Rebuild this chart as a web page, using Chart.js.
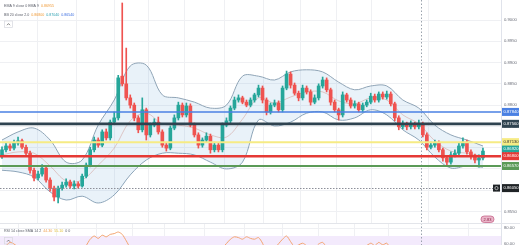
<!DOCTYPE html>
<html lang="en">
<head>
<meta charset="UTF-8">
<title>Price chart - BB / RSI</title>
<script src="https://cdn.jsdelivr.net/npm/chart.js@4.4.1/dist/chart.umd.min.js"></script>
<style>
  html, body { margin: 0; padding: 0; background: #fff; overflow: hidden; }
  #wrap { position: relative; width: 520px; height: 245px; }
  #priceChart { position: absolute; left: 0; top: 0; }
  #rsiChart { position: absolute; left: 0; top: 223px; }
</style>
</head>
<body>
<div id="wrap">
  <canvas id="priceChart" width="520" height="223"></canvas>
  <canvas id="rsiChart" width="520" height="22"></canvas>
</div>
<script>
// candles (one per bar, left to right)
const opens = [
  0.8680, 0.8695, 0.8704, 0.8699, 0.8711, 0.8716, 0.8701, 0.8687, 0.8647, 0.8629,
  0.8638, 0.8652, 0.8624, 0.8605, 0.8584, 0.8605, 0.8612, 0.8619, 0.8610, 0.8615,
  0.8610, 0.8633, 0.8659, 0.8695, 0.8718, 0.8706, 0.8737, 0.8723, 0.8760, 0.8770,
  0.8868, 0.8850, 0.8817, 0.8800, 0.8770, 0.8742, 0.8789, 0.8730, 0.8753, 0.8760,
  0.8737, 0.8706, 0.8699, 0.8746, 0.8770, 0.8800, 0.8777, 0.8798, 0.8753, 0.8730,
  0.8706, 0.8718, 0.8727, 0.8695, 0.8706, 0.8695, 0.8753, 0.8763, 0.8793, 0.8812,
  0.8817, 0.8807, 0.8800, 0.8812, 0.8824, 0.8840, 0.8812, 0.8784, 0.8800, 0.8805,
  0.8789, 0.8840, 0.8873, 0.8847, 0.8828, 0.8817, 0.8840, 0.8831, 0.8807, 0.8817,
  0.8845, 0.8859, 0.8836, 0.8807, 0.8789, 0.8777, 0.8824, 0.8812, 0.8798, 0.8803,
  0.8789, 0.8800, 0.8807, 0.8821, 0.8812, 0.8826, 0.8819, 0.8826, 0.8803, 0.8770,
  0.8749, 0.8756, 0.8749, 0.8756, 0.8749, 0.8756, 0.8730, 0.8701, 0.8706, 0.8711,
  0.8695, 0.8676, 0.8666, 0.8683, 0.8687, 0.8704, 0.8713, 0.8690, 0.8680, 0.8671,
  0.8676
];
const highs = [
  0.8702, 0.8711, 0.8709, 0.8718, 0.8725, 0.8720, 0.8706, 0.8692, 0.8652, 0.8645,
  0.8660, 0.8657, 0.8629, 0.8610, 0.8610, 0.8619, 0.8627, 0.8624, 0.8622, 0.8620,
  0.8638, 0.8664, 0.8701, 0.8725, 0.8723, 0.8742, 0.8744, 0.8765, 0.8784, 0.8870,
  0.9040, 0.8934, 0.8824, 0.8805, 0.8775, 0.8817, 0.8793, 0.8758, 0.8768, 0.8772,
  0.8742, 0.8711, 0.8751, 0.8777, 0.8807, 0.8805, 0.8805, 0.8803, 0.8758, 0.8735,
  0.8723, 0.8735, 0.8732, 0.8713, 0.8711, 0.8758, 0.8770, 0.8798, 0.8819, 0.8824,
  0.8821, 0.8812, 0.8817, 0.8828, 0.8847, 0.8845, 0.8817, 0.8805, 0.8812, 0.8810,
  0.8845, 0.8880, 0.8878, 0.8852, 0.8833, 0.8847, 0.8845, 0.8836, 0.8824, 0.8850,
  0.8866, 0.8864, 0.8840, 0.8812, 0.8793, 0.8831, 0.8828, 0.8817, 0.8810, 0.8807,
  0.8805, 0.8812, 0.8828, 0.8826, 0.8831, 0.8831, 0.8833, 0.8831, 0.8807, 0.8775,
  0.8763, 0.8760, 0.8763, 0.8760, 0.8765, 0.8760, 0.8735, 0.8713, 0.8718, 0.8716,
  0.8699, 0.8680, 0.8690, 0.8695, 0.8711, 0.8723, 0.8718, 0.8695, 0.8685, 0.8683,
  0.8699
];
const lows = [
  0.8675, 0.8690, 0.8693, 0.8695, 0.8706, 0.8697, 0.8682, 0.8640, 0.8622, 0.8624,
  0.8633, 0.8619, 0.8598, 0.8575, 0.8570, 0.8600, 0.8607, 0.8605, 0.8603, 0.8605,
  0.8607, 0.8629, 0.8655, 0.8690, 0.8701, 0.8702, 0.8718, 0.8718, 0.8755, 0.8765,
  0.8845, 0.8812, 0.8793, 0.8763, 0.8735, 0.8737, 0.8718, 0.8725, 0.8749, 0.8732,
  0.8701, 0.8692, 0.8695, 0.8742, 0.8765, 0.8772, 0.8772, 0.8749, 0.8725, 0.8699,
  0.8701, 0.8713, 0.8687, 0.8690, 0.8690, 0.8690, 0.8749, 0.8758, 0.8789, 0.8807,
  0.8803, 0.8796, 0.8796, 0.8807, 0.8819, 0.8805, 0.8777, 0.8779, 0.8796, 0.8784,
  0.8784, 0.8836, 0.8840, 0.8824, 0.8810, 0.8812, 0.8826, 0.8800, 0.8803, 0.8812,
  0.8840, 0.8831, 0.8800, 0.8784, 0.8765, 0.8772, 0.8807, 0.8793, 0.8793, 0.8784,
  0.8784, 0.8796, 0.8803, 0.8807, 0.8807, 0.8814, 0.8814, 0.8798, 0.8763, 0.8742,
  0.8744, 0.8742, 0.8744, 0.8744, 0.8744, 0.8725, 0.8695, 0.8697, 0.8701, 0.8690,
  0.8668, 0.8659, 0.8661, 0.8678, 0.8683, 0.8699, 0.8685, 0.8673, 0.8664, 0.8654,
  0.8671
];
const closes = [
  0.8695, 0.8704, 0.8699, 0.8711, 0.8716, 0.8701, 0.8687, 0.8647, 0.8629, 0.8638,
  0.8652, 0.8624, 0.8605, 0.8584, 0.8605, 0.8612, 0.8619, 0.8610, 0.8615, 0.8610,
  0.8633, 0.8659, 0.8695, 0.8718, 0.8706, 0.8737, 0.8723, 0.8760, 0.8770, 0.8864,
  0.8850, 0.8817, 0.8800, 0.8770, 0.8742, 0.8789, 0.8730, 0.8753, 0.8760, 0.8737,
  0.8706, 0.8699, 0.8746, 0.8770, 0.8800, 0.8777, 0.8798, 0.8753, 0.8730, 0.8706,
  0.8718, 0.8727, 0.8695, 0.8706, 0.8695, 0.8753, 0.8763, 0.8793, 0.8812, 0.8817,
  0.8807, 0.8800, 0.8812, 0.8824, 0.8840, 0.8812, 0.8784, 0.8800, 0.8805, 0.8789,
  0.8840, 0.8873, 0.8847, 0.8828, 0.8817, 0.8840, 0.8831, 0.8807, 0.8817, 0.8845,
  0.8859, 0.8836, 0.8807, 0.8789, 0.8777, 0.8824, 0.8812, 0.8798, 0.8803, 0.8789,
  0.8800, 0.8807, 0.8821, 0.8812, 0.8826, 0.8819, 0.8826, 0.8803, 0.8770, 0.8749,
  0.8756, 0.8749, 0.8756, 0.8749, 0.8756, 0.8730, 0.8701, 0.8706, 0.8711, 0.8695,
  0.8676, 0.8666, 0.8683, 0.8687, 0.8704, 0.8713, 0.8690, 0.8680, 0.8671, 0.8676,
  0.8692
];

// Bollinger bands, read every 4th bar
const bbIndex = [0, 4, 8, 12, 16, 20, 24, 28, 32, 36, 40, 44, 48, 52, 56, 60,
  64, 68, 72, 76, 80, 84, 88, 92, 96, 100, 104, 108, 112, 116, 120];
const bbUpper = [0.8718, 0.8737, 0.8746, 0.8718, 0.8666, 0.8671, 0.8753, 0.8812, 0.8892, 0.8894,
  0.8824, 0.8817, 0.8807, 0.8793, 0.8800, 0.8868, 0.8868, 0.8859, 0.8878, 0.8883,
  0.8878, 0.8854, 0.8836, 0.8845, 0.8845, 0.8812, 0.8793, 0.8753, 0.8730, 0.8718, 0.8704];
const bbBasis = [0.8683, 0.8690, 0.8687, 0.8657, 0.8622, 0.8624, 0.8659, 0.8699, 0.8763, 0.8781,
  0.8756, 0.8753, 0.8746, 0.8730, 0.8725, 0.8767, 0.8817, 0.8805, 0.8819, 0.8831,
  0.8831, 0.8810, 0.8803, 0.8817, 0.8812, 0.8777, 0.8756, 0.8716, 0.8692, 0.8687, 0.8680];
const bbLower = [0.8647, 0.8643, 0.8631, 0.8596, 0.8577, 0.8586, 0.8570, 0.8589, 0.8636, 0.8671,
  0.8687, 0.8687, 0.8683, 0.8666, 0.8650, 0.8666, 0.8765, 0.8751, 0.8760, 0.8781,
  0.8784, 0.8765, 0.8770, 0.8789, 0.8777, 0.8742, 0.8718, 0.8678, 0.8652, 0.8657, 0.8654];

// RSI 14
const rsiIndex = [0, 1, 2, 3, 5, 8, 12, 16, 19, 21, 22, 23, 24, 25, 26, 27, 28, 29, 30, 31,
  32, 36, 40, 44, 48, 52, 55, 57, 58, 59, 60, 61, 62, 63, 64, 65, 66, 68, 70, 71,
  72, 73, 75, 76, 78, 79, 80, 81, 83, 85, 89, 92, 93, 94, 95, 96, 97, 99, 103, 106,
  110, 112, 115, 117, 120];
const rsiValues = [55, 58, 62, 60, 52, 40, 35, 42, 45, 58, 66, 70, 67, 71, 69, 72, 73, 75, 72, 64,
  56, 45, 42, 55, 45, 40, 55, 66, 69, 68, 66, 69, 67, 66, 68, 61, 50, 55, 66, 70,
  63, 57, 61, 58, 55, 60, 62, 56, 48, 57, 52, 61, 58, 62, 59, 61, 54, 42, 45, 35,
  30, 35, 45, 40, 44.3];

// axes
const priceTicks = [0.9000, 0.8950, 0.8900, 0.8850, 0.8800, 0.8750, 0.8700, 0.8650, 0.8600, 0.8550];
const rsiTicks = [80, 60];
const dayTicks = [4, 13.5, 23.5, 32.5, 40.5, 50.5, 60.5, 70, 79, 88, 96.5, 116.5];
const sessionBreak = 104.5;

// drawn levels
const levelPrices = [0.8784, 0.8756, 0.8713, 0.8680, 0.8657];
const dottedLevel = 0.8605;

const emaValue = '0.86955';
const rsiLegendValues = ['44.30', '55.10'];

const FONT = '"Liberation Sans", Arial, sans-serif';
const UP = '#26a69a';
const DOWN = '#ef5350';
const levelStyle = [
  { color: '#4a80e3', width: 1.5, text: '#fff' },
  { color: '#2f4350', width: 2.6, text: '#fff' },
  { color: '#f6eb84', width: 2, text: '#333' },
  { color: '#e53935', width: 2.6, text: '#fff' },
  { color: '#5b9a57', width: 2, text: '#fff' }
];

function timeAxis() {
  return {
    type: 'linear',
    min: -0.5,
    max: 124.5,
    offset: false,
    afterBuildTicks: s => { s.ticks = dayTicks.map(v => ({ value: v })); },
    ticks: { display: false },
    grid: { color: '#eff0f3', drawTicks: false },
    border: { display: false },
    afterFit: s => { s.height = 0; }
  };
}

function valueAxis(min, max, ticks, digits) {
  return {
    position: 'right',
    min: min,
    max: max,
    afterBuildTicks: s => { s.ticks = ticks.map(v => ({ value: v })); },
    ticks: { font: { size: 4.2, family: FONT }, color: '#6a6d78', padding: 3, callback: v => v.toFixed(digits) },
    grid: { color: '#eff0f3', drawTicks: false },
    border: { color: '#e0e3eb' },
    afterFit: s => { s.width = 19; s.paddingTop = 0; s.paddingBottom = 0; }
  };
}

function tag(ctx, cy, bg, fg, lines) {
  const h = lines.length > 1 ? 11 : 8;
  ctx.fillStyle = bg;
  ctx.fillRect(502, cy - h / 2, 17, h);
  ctx.fillStyle = fg;
  ctx.font = '4.2px ' + FONT;
  ctx.textAlign = 'left';
  ctx.textBaseline = 'middle';
  lines.forEach((t, i) => ctx.fillText(t, 503.5, cy - (lines.length - 1) * 2.4 + i * 4.8));
}

function legendLine(ctx, y, parts) {
  let cx = 4;
  ctx.font = '3.6px ' + FONT;
  ctx.textAlign = 'left';
  ctx.textBaseline = 'middle';
  parts.forEach(([t, c]) => {
    ctx.fillStyle = c;
    ctx.fillText(t, cx, y);
    cx += ctx.measureText(t).width + 2;
  });
}

function collapseButton(ctx, top) {
  ctx.strokeStyle = '#d6d8de';
  ctx.lineWidth = 0.7;
  ctx.strokeRect(4.5, top, 8, 6.5);
  ctx.strokeStyle = '#555';
  ctx.beginPath();
  ctx.moveTo(7, top + 4.2);
  ctx.lineTo(8.5, top + 2.6);
  ctx.lineTo(10, top + 4.2);
  ctx.stroke();
}

function sessionLine(chart) {
  const { ctx, chartArea: a, scales: { x } } = chart;
  const sx = Math.round(x.getPixelForValue(sessionBreak)) + 0.5;
  ctx.save();
  ctx.strokeStyle = '#9aa3ad';
  ctx.lineWidth = 1;
  ctx.setLineDash([1.5, 2]);
  ctx.beginPath();
  ctx.moveTo(sx, a.top);
  ctx.lineTo(sx, a.bottom);
  ctx.stroke();
  ctx.restore();
}

const priceOverlay = {
  id: 'priceOverlay',
  beforeDatasetsDraw(chart) {
    sessionLine(chart);
  },
  afterDatasetsDraw(chart) {
    const { ctx, chartArea: a, scales: { y } } = chart;
    ctx.save();
    const dy = Math.round(y.getPixelForValue(dottedLevel)) + 0.5;
    ctx.strokeStyle = '#8c8f99';
    ctx.lineWidth = 1;
    ctx.setLineDash([1.5, 1.5]);
    ctx.beginPath();
    ctx.moveTo(a.left, dy);
    ctx.lineTo(a.right, dy);
    ctx.stroke();
    ctx.setLineDash([]);
    levelPrices.forEach((p, k) => {
      const ly = y.getPixelForValue(p);
      ctx.strokeStyle = levelStyle[k].color;
      ctx.lineWidth = levelStyle[k].width;
      ctx.beginPath();
      ctx.moveTo(a.left, ly);
      ctx.lineTo(a.right, ly);
      ctx.stroke();
    });
    ctx.restore();
  },
  afterDraw(chart) {
    const { ctx, scales: { y } } = chart;
    ctx.save();
    // right price tags
    [0, 1, 2].forEach(k => tag(ctx, y.getPixelForValue(levelPrices[k]), levelStyle[k].color, levelStyle[k].text, [levelPrices[k].toFixed(5)]));
    const last = closes[closes.length - 1];
    tag(ctx, y.getPixelForValue(last), UP, '#fff', [last.toFixed(5), '17:15:40']);
    [3, 4].forEach(k => tag(ctx, y.getPixelForValue(levelPrices[k]), levelStyle[k].color, levelStyle[k].text, [levelPrices[k].toFixed(5)]));
    const dy = y.getPixelForValue(dottedLevel);
    tag(ctx, dy, '#1f2326', '#fff', [dottedLevel.toFixed(5)]);
    ctx.fillStyle = '#1f2326';
    ctx.fillRect(493, dy - 3.5, 7, 7);
    ctx.strokeStyle = '#fff';
    ctx.lineWidth = 0.6;
    ctx.beginPath();
    ctx.arc(496.5, dy, 1.6, 0, Math.PI * 2);
    ctx.stroke();

    // legend
    const n = bbBasis.length - 1;
    legendLine(ctx, 5.5, [['EMA 9 close 0 EMA 9', '#5d606b'], [emaValue, '#f09a36']]);
    legendLine(ctx, 15, [['BB 20 close 2.0', '#5d606b'], [bbBasis[n].toFixed(5), '#f09a36'],
      [bbUpper[n].toFixed(5), '#2a9fb0'], [bbLower[n].toFixed(5), '#3d6fe0']]);
    collapseButton(ctx, 21);

    // marker bubble
    ctx.fillStyle = '#eab6c9';
    ctx.strokeStyle = '#c2577f';
    ctx.lineWidth = 0.7;
    ctx.beginPath();
    ctx.roundRect(481, 216, 13, 6.5, 3.2);
    ctx.fill();
    ctx.stroke();
    ctx.fillStyle = '#8a1c44';
    ctx.font = '4px ' + FONT;
    ctx.textAlign = 'center';
    ctx.textBaseline = 'middle';
    ctx.fillText('2.83', 487.5, 219.4);
    ctx.restore();
  }
};

const rsiOverlay = {
  id: 'rsiOverlay',
  beforeDatasetsDraw(chart) {
    const { ctx, chartArea: a, scales: { y } } = chart;
    ctx.save();
    const top = y.getPixelForValue(70);
    ctx.fillStyle = '#f3eafc';
    ctx.fillRect(a.left, top, a.right - a.left, a.bottom - top);
    ctx.restore();
    sessionLine(chart);
  },
  afterDraw(chart) {
    const { ctx } = chart;
    ctx.save();
    ctx.strokeStyle = '#e3e5ea';
    ctx.lineWidth = 1;
    ctx.beginPath();
    ctx.moveTo(0, 0.5);
    ctx.lineTo(520, 0.5);
    ctx.stroke();
    legendLine(ctx, 8, [['RSI 14 close SMA 14 2', '#5d606b'], [rsiLegendValues[0], '#f0a050'],
      [rsiLegendValues[1], '#e3c23a'], ['0 0', '#5d606b']]);
    collapseButton(ctx, 14.5);
    ctx.restore();
  }
};

const candleColors = closes.map((c, i) => (c >= opens[i] ? UP : DOWN));
const bandLine = {
  type: 'line',
  borderColor: '#8fa4b6',
  borderWidth: 1,
  pointRadius: 0,
  tension: 0.35
};

new Chart(document.getElementById('priceChart'), {
  type: 'bar',
  data: {
    datasets: [
      {
        label: 'body',
        data: closes.map((c, i) => ({ x: i, y: [opens[i], c] })),
        backgroundColor: candleColors,
        barThickness: 3,
        grouped: false,
        borderWidth: 0,
        borderSkipped: false
      },
      {
        label: 'wick',
        data: lows.map((l, i) => ({ x: i, y: [l, highs[i]] })),
        backgroundColor: candleColors,
        barThickness: 1,
        grouped: false,
        borderWidth: 0,
        borderSkipped: false
      },
      Object.assign({}, bandLine, {
        label: 'BB upper',
        data: bbIndex.map((x, k) => ({ x: x, y: bbUpper[k] })),
        fill: '+1',
        backgroundColor: 'rgba(125,180,220,0.17)'
      }),
      Object.assign({}, bandLine, {
        label: 'BB lower',
        data: bbIndex.map((x, k) => ({ x: x, y: bbLower[k] })),
        fill: false
      }),
      Object.assign({}, bandLine, {
        label: 'BB basis',
        data: bbIndex.map((x, k) => ({ x: x, y: bbBasis[k] })),
        borderColor: 'rgba(214,120,100,0.5)',
        borderWidth: 0.8,
        fill: false
      })
    ]
  },
  options: {
    responsive: false,
    animation: false,
    devicePixelRatio: 1,
    layout: { padding: 0 },
    plugins: { legend: { display: false }, tooltip: { enabled: false } },
    scales: {
      x: timeAxis(),
      y: valueAxis(0.8523, 0.9047, priceTicks, 4)
    }
  },
  plugins: [priceOverlay]
});

new Chart(document.getElementById('rsiChart'), {
  type: 'line',
  data: {
    datasets: [{
      label: 'RSI',
      data: rsiIndex.map((x, k) => ({ x: x, y: rsiValues[k] })),
      borderColor: '#f3a46e',
      borderWidth: 1,
      pointRadius: 0,
      tension: 0.25,
      fill: false
    }]
  },
  options: {
    responsive: false,
    animation: false,
    devicePixelRatio: 1,
    layout: { padding: 0 },
    plugins: { legend: { display: false }, tooltip: { enabled: false } },
    scales: {
      x: timeAxis(),
      y: valueAxis(58.75, 86.25, rsiTicks, 2)
    }
  },
  plugins: [rsiOverlay]
});
</script>
</body>
</html>
